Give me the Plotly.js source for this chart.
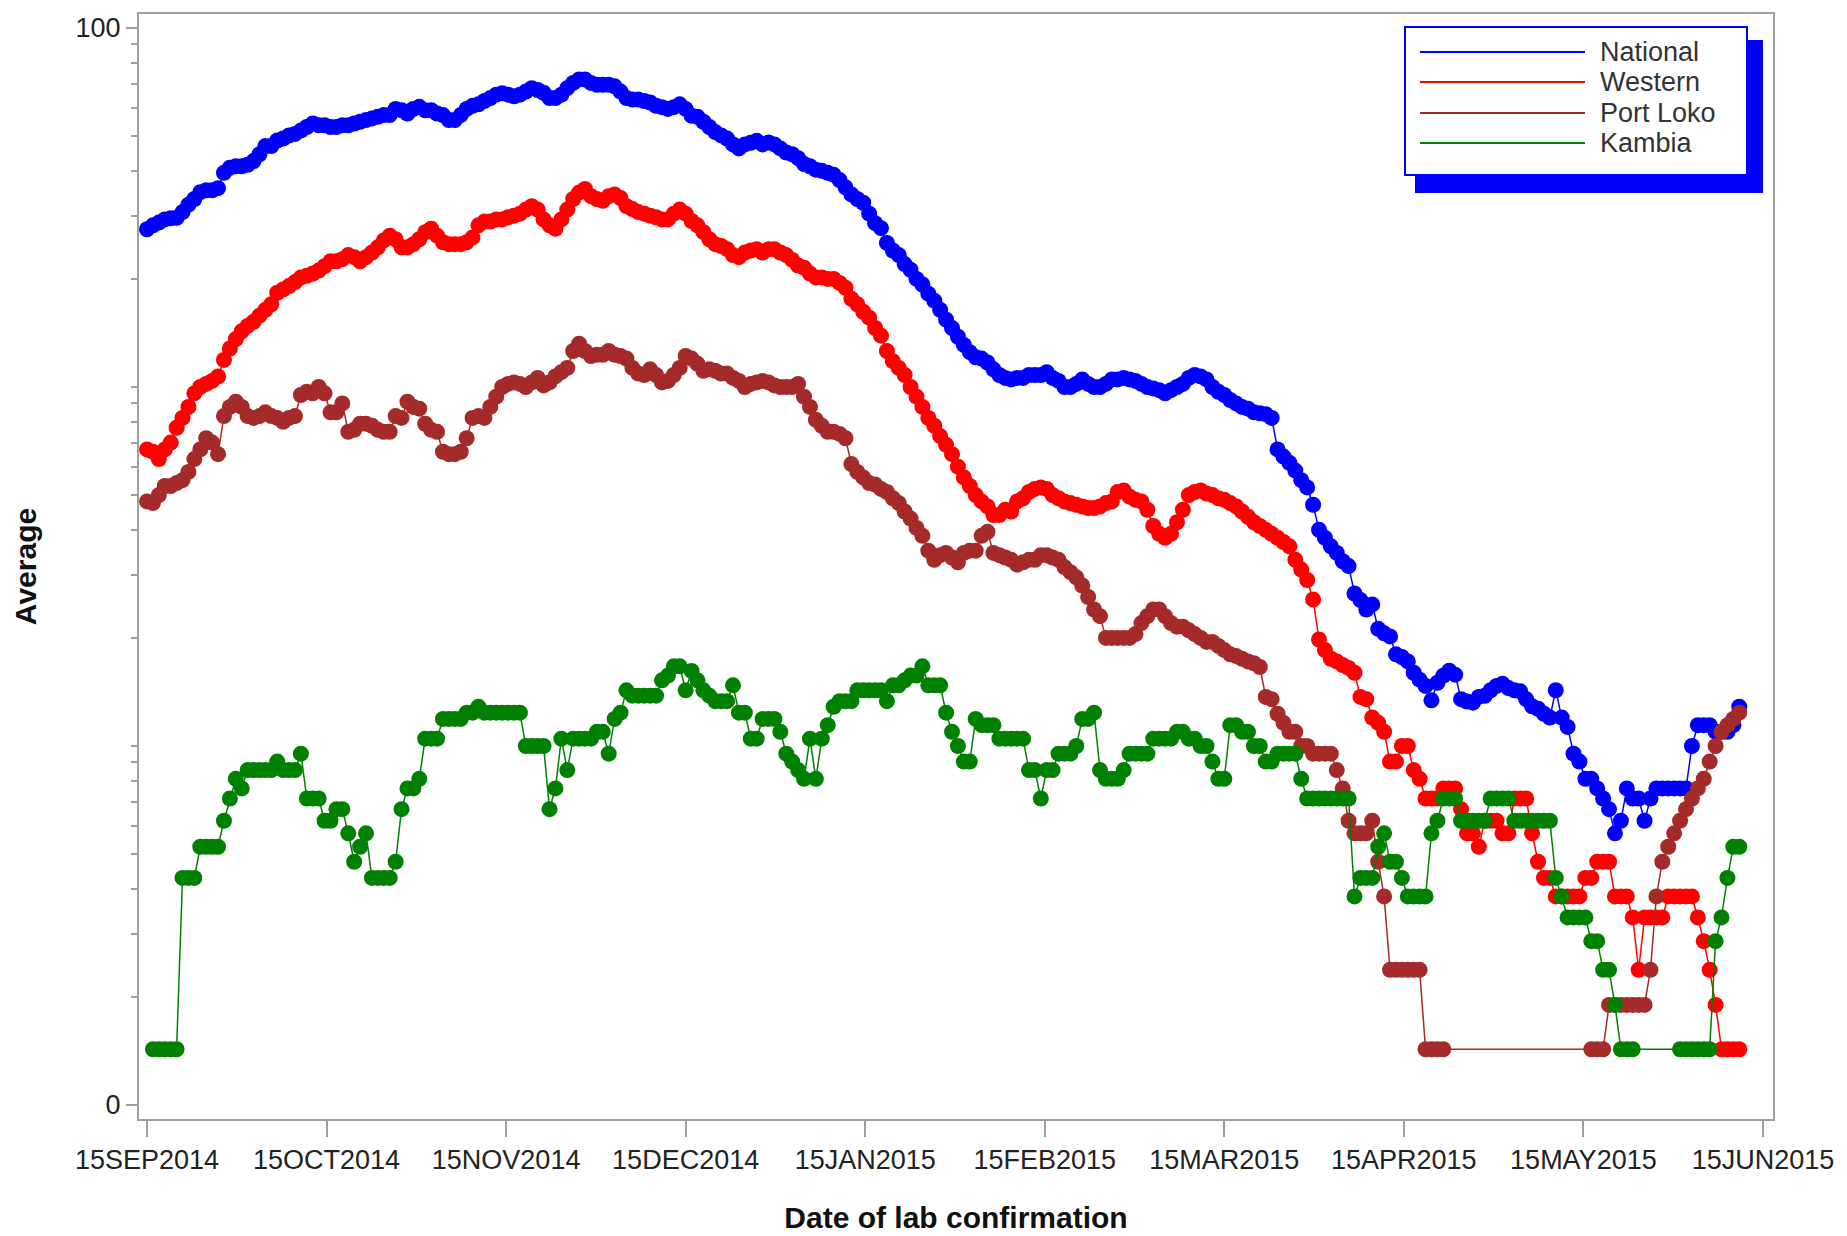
<!DOCTYPE html>
<html>
<head>
<meta charset="utf-8">
<script src="https://cdn.plot.ly/plotly-3.0.1.min.js"></script>
<style>
  html, body { margin: 0; padding: 0; background: #fff; }
</style>
</head>
<body>
<div id="chart" style="width:1847px;height:1236px"></div>
<script>
// Moving average of lab-confirmed cases, one value per day from 15SEP2014 (null = no case, not drawn on log axis)
const startDay = [2014, 8, 15];

const national = [
  27.5, 28.2, 28.7, 29.3, 29.5, 29.6, 30.7, 32.2, 33.4, 34.9,
  35.3, 35.3, 35.8, 39.5, 40.8, 41.2, 41.2, 41.6, 42.6, 44.5,
  46.9, 46.9, 48.6, 49.2, 50.2, 50.7, 51.8, 53.0, 54.2, 53.6,
  53.6, 53.0, 53.0, 53.6, 53.6, 54.2, 54.8, 55.4, 56.0, 56.6,
  57.2, 57.2, 59.5, 59.0, 57.8, 59.5, 60.3, 59.0, 59.0, 57.8,
  57.2, 55.4, 55.4, 57.2, 59.5, 60.7, 61.3, 62.6, 63.8, 65.2,
  65.8, 65.2, 64.5, 65.2, 66.5, 68.0, 67.2, 66.0, 63.8, 63.8,
  65.2, 68.0, 70.3, 71.9, 71.9, 70.3, 69.5, 69.5, 69.5, 68.8,
  66.5, 63.8, 63.2, 63.2, 62.6, 62.0, 60.7, 60.2, 59.5, 60.2,
  61.3, 59.5, 57.0, 56.6, 54.8, 53.0, 51.3, 50.2, 49.2, 47.4,
  46.2, 47.4, 47.9, 48.5, 47.4, 48.0, 47.4, 46.2, 45.0, 44.5,
  43.4, 41.8, 41.2, 40.3, 40.0, 39.5, 39.0, 37.7, 36.0, 34.4,
  33.4, 32.6, 30.4, 28.6, 27.7, 25.2, 24.0, 23.3, 22.0, 21.2,
  20.0, 19.3, 18.2, 17.4, 16.4, 15.4, 14.6, 13.8, 13.1, 12.5,
  12.1, 12.0, 11.7, 11.2, 10.8, 10.6, 10.5, 10.6, 10.6, 10.8,
  10.8, 10.8, 11.0, 10.6, 10.4, 10.0, 10.0, 10.2, 10.5, 10.2,
  10.0, 10.0, 10.2, 10.5, 10.5, 10.6, 10.5, 10.4, 10.2, 10.0,
  9.9, 9.8, 9.6, 9.8, 10.0, 10.2, 10.6, 10.8, 10.7, 10.5,
  10.0, 9.7, 9.5, 9.2, 9.0, 8.8, 8.7, 8.5, 8.45, 8.4,
  8.2, 6.7, 6.4, 6.15, 5.85, 5.5, 5.25, 4.7, 4.0, 3.8,
  3.6, 3.45, 3.27, 3.17, 2.66, 2.55, 2.4, 2.48, 2.12, 2.06,
  2.02, 1.8, 1.77, 1.72, 1.6, 1.53, 1.47, 1.34, 1.5, 1.57,
  1.62, 1.58, 1.35, 1.33, 1.32, 1.37, 1.38, 1.43, 1.47, 1.49,
  1.45, 1.43, 1.42, 1.35, 1.29, 1.27, 1.23, 1.2, 1.43, 1.2,
  1.13, 0.952, 0.905, 0.81, 0.81, 0.762, 0.714, 0.667, 0.571, 0.619,
  0.762, 0.714, 0.714, 0.619, 0.714, 0.762, 0.762, 0.762, 0.762, 0.762,
  0.762, 1.0, 1.143, 1.143, 1.143, 1.095, 1.095, 1.095, 1.143, 1.286
];

const western = [
  6.7, 6.6, 6.3, 6.7, 7.0, 7.7, 8.2, 8.8, 9.6, 10.0,
  10.2, 10.4, 10.7, 11.9, 12.8, 13.6, 14.3, 14.8, 15.2, 15.8,
  16.4, 17.0, 18.3, 18.7, 19.1, 19.6, 20.2, 20.4, 20.7, 21.1,
  21.7, 22.4, 22.4, 22.7, 23.3, 23.0, 22.4, 23.0, 23.7, 24.5,
  25.6, 26.4, 25.8, 24.5, 24.5, 25.0, 25.8, 27.0, 27.6, 26.4,
  25.3, 25.0, 25.0, 25.0, 25.3, 26.1, 28.2, 28.9, 28.9, 29.3,
  29.3, 29.7, 30.0, 30.4, 31.2, 31.9, 31.2, 29.3, 28.2, 27.6,
  29.3, 31.2, 33.4, 34.8, 35.6, 34.0, 33.4, 33.0, 34.0, 34.4,
  33.6, 31.9, 31.3, 30.7, 30.4, 30.0, 29.7, 29.3, 29.3, 30.4,
  31.2, 30.4, 29.0, 28.2, 27.0, 25.8, 25.0, 24.7, 24.2, 23.3,
  23.0, 23.7, 24.0, 24.2, 23.7, 24.2, 24.2, 23.7, 23.3, 22.6,
  21.8, 21.5, 20.7, 20.2, 20.2, 20.0, 20.0, 19.5, 18.9, 17.6,
  17.0, 16.2, 15.6, 14.6, 13.9, 12.6, 11.8, 11.3, 10.8, 10.0,
  9.4, 8.8, 8.2, 7.8, 7.3, 6.9, 6.5, 6.0, 5.6, 5.3,
  5.0, 4.8, 4.65, 4.4, 4.4, 4.55, 4.5, 4.8, 4.9, 5.1,
  5.2, 5.25, 5.2, 5.0, 4.9, 4.8, 4.75, 4.7, 4.65, 4.6,
  4.6, 4.65, 4.75, 4.8, 5.1, 5.15, 4.95, 4.85, 4.8, 4.55,
  4.1, 3.9, 3.8, 3.9, 4.2, 4.55, 5.0, 5.1, 5.15, 5.05,
  5.0, 4.9, 4.85, 4.75, 4.65, 4.5, 4.35, 4.2, 4.1, 4.0,
  3.9, 3.8, 3.7, 3.6, 3.3, 3.1, 2.9, 2.56, 1.98, 1.85,
  1.75, 1.72, 1.68, 1.65, 1.6, 1.37, 1.35, 1.2, 1.16, 1.095,
  0.905, 0.905, 1.0, 1.0, 0.857, 0.81, 0.714, 0.714, 0.714, 0.762,
  0.762, 0.762, 0.667, 0.571, 0.571, 0.524, 0.619, 0.619, 0.619, 0.571,
  0.571, 0.714, 0.714, 0.714, 0.571, 0.476, 0.429, 0.429, 0.381, 0.381,
  0.381, 0.381, 0.381, 0.429, 0.429, 0.476, 0.476, 0.476, 0.381, 0.381,
  0.381, 0.333, 0.238, 0.333, 0.333, 0.333, 0.333, 0.381, 0.381, 0.381,
  0.381, 0.381, 0.333, 0.286, 0.238, 0.19, 0.143, 0.143, 0.143, 0.143
];

const portLoko = [
  4.8, 4.75, 5.0, 5.3, 5.3, 5.4, 5.5, 5.8, 6.3, 6.7,
  7.2, 7.0, 6.5, 8.3, 8.8, 9.1, 8.8, 8.3, 8.2, 8.3,
  8.5, 8.3, 8.2, 8.0, 8.2, 8.3, 9.5, 9.7, 9.6, 10.0,
  9.6, 8.5, 8.5, 9.0, 7.5, 7.6, 7.9, 7.9, 7.8, 7.6,
  7.5, 7.5, 8.3, 8.2, 9.1, 8.8, 8.7, 7.9, 7.6, 7.5,
  6.6, 6.5, 6.5, 6.6, 7.2, 8.2, 8.3, 8.2, 8.8, 9.4,
  10.0, 10.2, 10.3, 10.2, 10.0, 10.3, 10.6, 10.1, 10.3, 10.7,
  11.0, 11.3, 12.6, 13.2, 12.6, 12.2, 12.3, 12.3, 12.6, 12.3,
  12.2, 12.0, 11.3, 10.9, 10.8, 11.2, 10.8, 10.3, 10.4, 10.8,
  11.3, 12.2, 12.0, 11.6, 11.1, 11.2, 11.1, 10.9, 10.9, 10.6,
  10.4, 10.0, 10.2, 10.3, 10.4, 10.3, 10.1, 10.0, 10.0, 10.0,
  10.2, 9.4, 8.8, 8.1, 7.8, 7.5, 7.5, 7.4, 7.2, 6.1,
  5.8, 5.6, 5.4, 5.35, 5.2, 5.1, 4.9, 4.75, 4.5, 4.3,
  4.05, 3.85, 3.5, 3.3, 3.4, 3.45, 3.35, 3.25, 3.45, 3.5,
  3.5, 3.85, 3.95, 3.45, 3.4, 3.35, 3.3, 3.2, 3.25, 3.3,
  3.3, 3.4, 3.4, 3.35, 3.3, 3.15, 3.05, 2.95, 2.8, 2.6,
  2.4, 2.3, 2.0, 2.0, 2.0, 2.0, 2.0, 2.05, 2.2, 2.3,
  2.4, 2.4, 2.3, 2.2, 2.15, 2.15, 2.1, 2.05, 2.0, 1.95,
  1.95, 1.9, 1.85, 1.8, 1.78, 1.75, 1.72, 1.7, 1.66, 1.37,
  1.35, 1.23, 1.16, 1.095, 1.095, 1.0, 1.0, 0.952, 0.952, 0.952,
  0.952, 0.857, 0.762, 0.619, 0.571, 0.571, 0.571, 0.619, 0.476, 0.381,
  0.238, 0.238, 0.238, 0.238, 0.238, 0.238, 0.143, 0.143, 0.143, 0.143,
  null, null, null, null, null, null, null, null, null, null,
  null, null, null, null, null, null, null, null, null, null,
  null, null, null, null, 0.143, 0.143, 0.143, 0.19, 0.19, 0.19,
  0.19, 0.19, 0.19, 0.19, 0.238, 0.381, 0.476, 0.524, 0.571, 0.619,
  0.667, 0.714, 0.762, 0.81, 0.905, 1.0, 1.095, 1.143, 1.19, 1.238
];

const kambia = [
  null, 0.143, 0.143, 0.143, 0.143, 0.143, 0.429, 0.429, 0.429, 0.524,
  0.524, 0.524, 0.524, 0.619, 0.714, 0.81, 0.762, 0.857, 0.857, 0.857,
  0.857, 0.857, 0.905, 0.857, 0.857, 0.857, 0.952, 0.714, 0.714, 0.714,
  0.619, 0.619, 0.667, 0.667, 0.571, 0.476, 0.524, 0.571, 0.429, 0.429,
  0.429, 0.429, 0.476, 0.667, 0.762, 0.762, 0.81, 1.048, 1.048, 1.048,
  1.19, 1.19, 1.19, 1.19, 1.238, 1.238, 1.286, 1.238, 1.238, 1.238,
  1.238, 1.238, 1.238, 1.238, 1.0, 1.0, 1.0, 1.0, 0.667, 0.762,
  1.048, 0.857, 1.048, 1.048, 1.048, 1.048, 1.095, 1.095, 0.952, 1.19,
  1.238, 1.429, 1.381, 1.381, 1.381, 1.381, 1.381, 1.524, 1.571, 1.667,
  1.667, 1.429, 1.619, 1.524, 1.429, 1.381, 1.333, 1.333, 1.333, 1.476,
  1.238, 1.238, 1.048, 1.048, 1.19, 1.19, 1.19, 1.095, 0.952, 0.905,
  0.857, 0.81, 1.048, 0.81, 1.048, 1.143, 1.286, 1.333, 1.333, 1.333,
  1.429, 1.429, 1.429, 1.429, 1.429, 1.333, 1.476, 1.476, 1.524, 1.571,
  1.571, 1.667, 1.476, 1.476, 1.476, 1.238, 1.095, 1.0, 0.905, 0.905,
  1.19, 1.143, 1.143, 1.143, 1.048, 1.048, 1.048, 1.048, 1.048, 0.857,
  0.857, 0.714, 0.857, 0.857, 0.952, 0.952, 0.952, 1.0, 1.19, 1.19,
  1.238, 0.857, 0.81, 0.81, 0.81, 0.857, 0.952, 0.952, 0.952, 0.952,
  1.048, 1.048, 1.048, 1.048, 1.095, 1.095, 1.048, 1.048, 1.0, 1.0,
  0.905, 0.81, 0.81, 1.143, 1.143, 1.095, 1.095, 1.0, 1.0, 0.905,
  0.905, 0.952, 0.952, 0.952, 0.952, 0.81, 0.714, 0.714, 0.714, 0.714,
  0.714, 0.714, 0.714, 0.714, 0.381, 0.429, 0.429, 0.429, 0.524, 0.571,
  0.476, 0.476, 0.429, 0.381, 0.381, 0.381, 0.381, 0.571, 0.619, 0.714,
  0.714, 0.714, 0.619, 0.619, 0.619, 0.619, 0.619, 0.714, 0.714, 0.714,
  0.714, 0.619, 0.619, 0.619, 0.619, 0.619, 0.619, 0.619, 0.429, 0.381,
  0.333, 0.333, 0.333, 0.333, 0.286, 0.286, 0.238, 0.238, 0.19, 0.143,
  0.143, 0.143, null, null, null, null, null, null, null, 0.143,
  0.143, 0.143, 0.143, 0.143, 0.143, 0.286, 0.333, 0.429, 0.524, 0.524
];

const seriesNames = ['National', 'Western', 'Port Loko', 'Kambia'];
const seriesColors = ['#0000ff', '#ff0000', '#a52a2a', '#008000'];

// x ticks sit evenly spaced in the original, labelled with the 15th of each month
const tickDates = ['2014-09-15', '2014-10-15 08:00', '2014-11-14 16:00', '2014-12-15',
  '2015-01-14 08:00', '2015-02-13 16:00', '2015-03-16', '2015-04-15 08:00',
  '2015-05-15 16:00', '2015-06-15'];
const tickLabels = ['15SEP2014', '15OCT2014', '15NOV2014', '15DEC2014', '15JAN2015',
  '15FEB2015', '15MAR2015', '15APR2015', '15MAY2015', '15JUN2015'];
const yTickVals = [0.1, 100];
const yTickText = ['0', '100'];
const yMinorTicks = [0.2, 0.3, 0.4, 0.5, 0.6, 0.7, 0.8, 0.9,
  1, 2, 3, 4, 5, 6, 7, 8, 9, 10, 20, 30, 40, 50, 60, 70, 80, 90];

const dates = national.map((v, i) => {
  const d = new Date(Date.UTC(startDay[0], startDay[1], startDay[2] + i));
  return d.toISOString().slice(0, 10);
});

const allSeries = [national, western, portLoko, kambia];
const traces = allSeries.map((ys, i) => ({
  x: dates,
  y: ys,
  name: seriesNames[i],
  type: 'scatter',
  mode: 'lines+markers',
  connectgaps: true,
  line: { color: seriesColors[i], width: 1.5 },
  marker: { color: seriesColors[i], size: 16, symbol: 'circle' },
  hoverinfo: 'x+y+name'
}));

// plot frame in page pixels, used to place the hand-drawn legend
const M = { l: 139, r: 74, t: 14, b: 117 };
const W = 1847, H = 1236;
const px = x => (x - M.l) / (W - M.l - M.r);
const py = y => 1 - (y - M.t) / (H - M.t - M.b);

const shapes = [
  { type: 'rect', xref: 'paper', yref: 'paper', x0: px(1415), x1: px(1763), y0: py(193), y1: py(40),
    fillcolor: '#0000ff', line: { width: 0 } },
  { type: 'rect', xref: 'paper', yref: 'paper', x0: px(1405), x1: px(1747), y0: py(175), y1: py(27),
    fillcolor: '#ffffff', line: { color: '#0000ff', width: 2 } }
];
const annotations = [];
const legendRows = [52, 82, 113, 143];
seriesNames.forEach((name, i) => {
  shapes.push({ type: 'line', xref: 'paper', yref: 'paper',
    x0: px(1420), x1: px(1585), y0: py(legendRows[i]), y1: py(legendRows[i]),
    line: { color: seriesColors[i], width: 2 } });
  annotations.push({ xref: 'paper', yref: 'paper', x: px(1598), y: py(legendRows[i]),
    xanchor: 'left', yanchor: 'middle', text: name, showarrow: false,
    font: { size: 27, color: '#333' } });
});

const layout = {
  width: W, height: H,
  margin: M,
  paper_bgcolor: '#ffffff',
  plot_bgcolor: '#ffffff',
  showlegend: false,
  font: { family: '"Liberation Sans", Arial, sans-serif', color: '#222' },
  xaxis: {
    type: 'date',
    range: ['2014-09-13 15:34', '2015-06-16 16:48'],
    tickmode: 'array', tickvals: tickDates, ticktext: tickLabels,
    ticks: 'outside', ticklen: 16, tickwidth: 2, tickcolor: '#a0a0a0',
    showline: true, linecolor: '#a0a0a0', linewidth: 2, mirror: true,
    showgrid: false, zeroline: false,
    tickfont: { size: 27, color: '#222' },
    title: { text: 'Date of lab confirmation', font: { size: 30, weight: 'bold', color: '#111' }, standoff: 33 }
  },
  yaxis: {
    type: 'log',
    range: [-1.039, 2.039],
    tickmode: 'array', tickvals: yTickVals, ticktext: yTickText,
    ticks: 'outside', ticklen: 11, tickwidth: 2, tickcolor: '#a0a0a0',
    minor: { tickmode: 'array', tickvals: yMinorTicks, ticks: 'outside', ticklen: 6, tickwidth: 2, tickcolor: '#a0a0a0' },
    showline: true, linecolor: '#a0a0a0', linewidth: 2, mirror: true,
    showgrid: false, zeroline: false,
    tickfont: { size: 27, color: '#222' },
    title: { text: 'Average', font: { size: 30, weight: 'bold', color: '#111' }, standoff: 30 }
  },
  shapes: shapes,
  annotations: annotations
};

Plotly.newPlot('chart', traces, layout, { displayModeBar: false, staticPlot: true });
</script>
</body>
</html>
